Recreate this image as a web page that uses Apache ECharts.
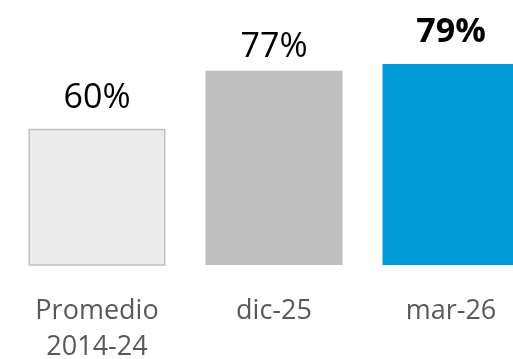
<!DOCTYPE html>
<html>
<head>
<meta charset="utf-8">
<script src="https://cdn.jsdelivr.net/npm/echarts@6/dist/echarts.min.js"></script>
<style>html,body{margin:0;padding:0;background:#fff}#c{width:513px;height:359px}</style>
</head>
<body>
<div id="c"></div>
<script>
const categories = ['Promedio\n2014-24', 'dic-25', 'mar-26'];
const values = [60, 77, 79];
const barColors = ['#ebebeb', '#bfbfbf', '#009bd7'];
const labelBold = [false, false, true];

const chart = echarts.init(document.getElementById('c'), null, {renderer: 'canvas'});
const FONT = '"Open Sans", "Noto Sans", sans-serif';
chart.setOption({
  animation: false,
  grid: {left: 8.5, width: 531, top: 60.6, height: 204.4, containLabel: false, outerBoundsMode: 'none'},
  xAxis: {
    type: 'category',
    data: categories,
    axisLine: {show: false},
    axisTick: {show: false},
    axisLabel: {color: '#595959', fontSize: 27, fontFamily: FONT, lineHeight: 36, margin: 28}
  },
  yAxis: {type: 'value', min: 20, max: 80, show: false},
  series: [{
    type: 'bar',
    barWidth: 137,
    data: values.map((v, i) => ({
      value: v,
      itemStyle: i === 0 ? {color: barColors[i], borderColor: '#bfbfbf', borderWidth: 1.5} : {color: barColors[i]},
      label: {distance: i === 0 ? 13 : (i === 1 ? 7 : 15), fontWeight: labelBold[i] ? 'bold' : 'normal'}
    })),
    label: {
      show: true,
      position: 'top',
      formatter: p => p.value + '%',
      color: '#000',
      fontSize: 34,
      fontFamily: FONT
    }
  }]
});
</script>
</body>
</html>
